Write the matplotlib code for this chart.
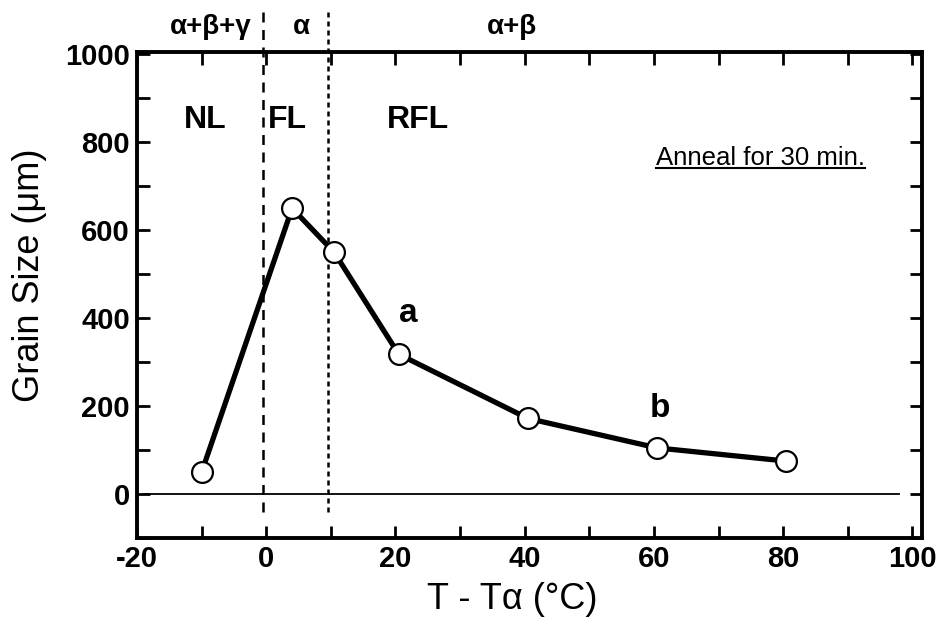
import matplotlib
matplotlib.use('Agg')
import matplotlib.pyplot as plt
from matplotlib.lines import Line2D

# data
temp = [-10, 4, 10.5, 20.5, 40.5, 60.5, 80.5]
grain = [50, 650, 550, 318, 172, 105, 75]

bounds = [-0.5, 9.5]          # phase boundaries (dashed)
phases = ['α+β+γ', 'α', 'α+β']
phase_x = [-8.6, 5.5, 38]
regions = ['NL', 'FL', 'RFL']
region_x = [-9.5, 3.2, 23.5]
point_labels = ['a', 'b']
point_label_x = [22, 61]
point_label_y = [410, 195]

plt.rcParams['font.family'] = ['Liberation Sans', 'DejaVu Sans']
plt.rcParams['axes.unicode_minus'] = False

fig = plt.figure(figsize=(9.47, 6.36), dpi=100)
ax = fig.add_axes([0.1447, 0.154, 0.829, 0.764])

# zero line
ax.axhline(0, xmin=0.01, xmax=0.97, color='black', lw=1.3)

# phase boundaries, running above the frame
ax.plot([bounds[0]] * 2, [-40, 1100], color='black', lw=1.8,
        ls=(0, (4, 3)), clip_on=False)
ax.plot([bounds[1]] * 2, [-40, 1100], color='black', lw=1.8,
        ls=(0, (2, 1.6)), clip_on=False)

ax.plot(temp, grain, color='black', lw=3.8, marker='o', ms=15,
        mfc='white', mec='black', mew=1.6, zorder=5)

ax.set_xlim(-20, 101.5)
ax.set_ylim(-100, 1005)
ax.set_xticks(range(-20, 101, 20))
ax.set_xticks(range(-10, 101, 10), minor=True)
ax.set_yticks(range(0, 1001, 200))
ax.set_yticks(range(-100, 1001, 100), minor=True)
ax.tick_params(which='both', direction='in', top=True, right=True,
               length=9, width=2, labelsize=21, pad=5)
for lab in ax.get_xticklabels() + ax.get_yticklabels():
    lab.set_fontweight('bold')
for s in ax.spines.values():
    s.set_linewidth(2.8)

ax.set_xlabel('T - Tα (°C)', fontsize=26)
ax.set_ylabel('Grain Size (μm)', fontsize=26)
ax.xaxis.set_label_coords(0.478, -0.09)
ax.yaxis.set_label_coords(-0.115, 0.54)

for name, x in zip(phases, phase_x):
    ax.text(x, 1062, name, fontsize=20, fontweight='bold', ha='center',
            va='center', clip_on=False)
for name, x in zip(regions, region_x):
    ax.text(x, 850, name, fontsize=23, fontweight='bold', ha='center',
            va='center')
for name, x, y in zip(point_labels, point_label_x, point_label_y):
    ax.text(x, y, name, fontsize=24, fontweight='bold', ha='center',
            va='center')

note = ax.text(76.5, 765, 'Anneal for 30 min.', fontsize=18.5, ha='center',
               va='center')

# underline the note
fig.canvas.draw()
bb = note.get_window_extent().transformed(fig.transFigure.inverted())
fig.add_artist(Line2D([bb.x0, bb.x1], [bb.y0 + 0.002] * 2,
                      color='black', lw=1.5))

fig.savefig('out.png', dpi=100)
